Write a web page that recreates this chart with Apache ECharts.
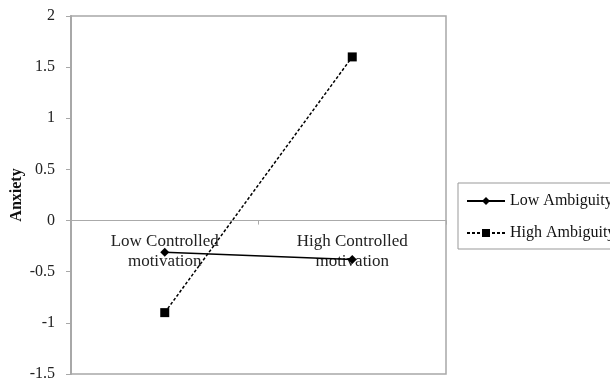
<!DOCTYPE html>
<html>
<head>
<meta charset="utf-8">
<script src="https://cdn.jsdelivr.net/npm/echarts@6/dist/echarts.min.js"></script>
<style>html,body{margin:0;padding:0;background:#fff;}#c{width:610px;height:383px;}</style>
</head>
<body>
<div id="c"></div>
<script>
var categories = ['Low Controlled\nmotivation', 'High Controlled\nmotivation'];
var lowAmbiguity = [-0.31, -0.38];
var highAmbiguity = [-0.9, 1.6];
var seriesNames = ['Low Ambiguity', 'High Ambiguity'];
var yTicks = { min: -1.5, max: 2, interval: 0.5 };

var font = '"Liberation Serif", "Times New Roman", serif';
var gridH = 358;
// move the category axis up to the zero line
var zeroOffset = -gridH * (0 - yTicks.min) / (yTicks.max - yTicks.min);
var chart = echarts.init(document.getElementById('c'), null, { renderer: 'canvas' });
chart.setOption({
  animation: false,
  backgroundColor: '#fff',
  grid: { left: 71, top: 16, width: 375, height: gridH, outerBoundsMode: 'none', containLabel: false, show: true, borderColor: '#a8a8a8', borderWidth: 1.5, backgroundColor: 'transparent' },
  legend: {
    orient: 'vertical', left: 458, top: 183,
    data: seriesNames,
    itemWidth: 38, itemHeight: 10, itemGap: 16,
    borderColor: '#999', borderWidth: 1, padding: [10, 10, 8, 8],
    textStyle: { fontFamily: font, fontSize: 16, color: '#111' }
  },
  xAxis: {
    type: 'category', data: categories,
    offset: zeroOffset,
    axisLine: { onZero: false, lineStyle: { color: '#aaa', width: 1 } },
    axisTick: { show: true, length: 4, lineStyle: { color: '#aaa' } },
    axisLabel: { fontFamily: font, fontSize: 17, color: '#222', lineHeight: 20, margin: 11 },
    splitLine: { show: false }
  },
  yAxis: {
    type: 'value', min: yTicks.min, max: yTicks.max, interval: yTicks.interval,
    name: 'Anxiety', nameLocation: 'middle', nameGap: 46, nameRotate: 90, nameMoveOverlap: false,
    nameTextStyle: { fontFamily: font, fontSize: 16, fontWeight: 'bold', color: '#111' },
    axisLine: { show: true, lineStyle: { color: '#a8a8a8', width: 2 } },
    axisTick: { show: true, length: 5, lineStyle: { color: '#a8a8a8' } },
    axisLabel: { fontFamily: font, fontSize: 16, color: '#222', margin: 16 },
    splitLine: { show: false }
  },
  series: [
    {
      name: seriesNames[0], type: 'line', data: lowAmbiguity,
      symbol: 'diamond', symbolSize: 9,
      itemStyle: { color: '#000' },
      lineStyle: { color: '#000', width: 1.5, type: 'solid' }
    },
    {
      name: seriesNames[1], type: 'line', data: highAmbiguity,
      symbol: 'rect', symbolSize: 9,
      itemStyle: { color: '#000' },
      lineStyle: { color: '#000', width: 1.5, type: [3, 2] }
    }
  ]
});
</script>
</body>
</html>
